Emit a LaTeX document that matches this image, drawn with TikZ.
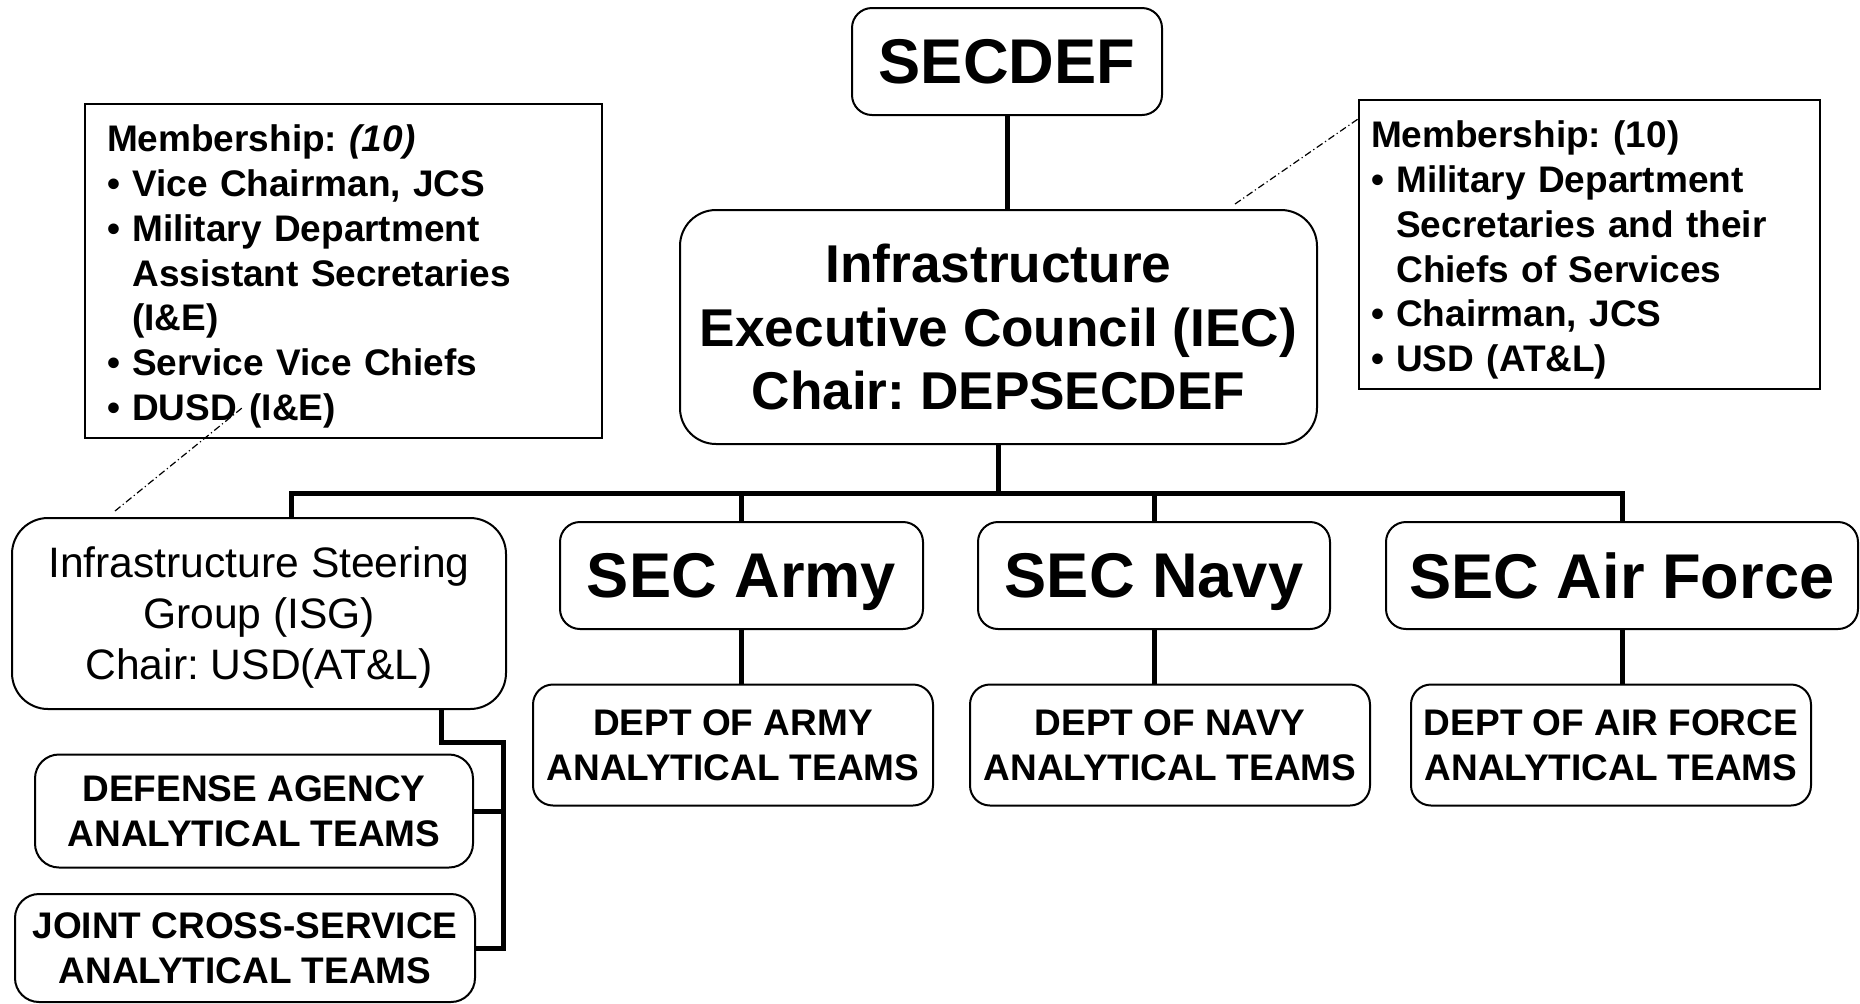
\documentclass[tikz,border=0pt]{standalone}
\usepackage{fontspec}
\setmainfont{Liberation Sans}
\usepackage{tikz}
\usetikzlibrary{calc}
\frenchspacing
\tikzset{
orgBox/.style={draw, line width=1pt, rounded corners=10pt, inner sep=0pt, align=center},
secFont/.style={font=\fontsize{31.6}{38}\selectfont\bfseries, text depth=0pt},
teamFont/.style={font=\fontsize{18.5}{22.5}\selectfont\bfseries},
memberBox/.style={draw, line width=1pt, inner ysep=0pt, align=left,
    font=\fontsize{18.5}{22.4}\selectfont\bfseries},
orgLine/.style={line width=2.5pt},
noteLine/.style={line width=0.6pt, dash pattern=on 3.5pt off 1.5pt on 0.6pt off 1.5pt}
}
\newcommand{\nobul}{\phantom{\textbullet\ }}
\newcommand{\topstrut}{\rule{0pt}{19pt}}

\begin{document}
\begin{tikzpicture}[x=0.5pt,y=-0.5pt]
    \useasboundingbox (0,0) rectangle (1860,1003);

    \node[orgBox, secFont, minimum width=155pt, minimum height=53.5pt] (secdef) at (1007,61.5) {SECDEF};
    \node[orgBox, rounded corners=18pt, minimum width=318.5pt, minimum height=117pt,
        font=\fontsize{26.6}{31.7}\selectfont\bfseries] (iec) at (998.5,327)
        {Infrastructure\\Executive Council (IEC)\\Chair: DEPSECDEF};

    \node[memberBox, inner xsep=11pt, text width=236.5pt, minimum height=167pt] (memIsg) at (343.5,271)
        {\topstrut Membership: \textit{(10)}\\
        \textbullet\ Vice Chairman, JCS\\
        \textbullet\ Military Department\\
        \nobul Assistant Secretaries\\
        \nobul (I\&E)\\
        \textbullet\ Service Vice Chiefs\\
        \textbullet\ DUSD (I\&E)};
    \node[memberBox, inner xsep=6pt, text width=218.5pt, minimum height=144.5pt] (memIec) at (1589.5,244.5)
        {\topstrut Membership: (10)\\
        \textbullet\ Military Department\\
        \nobul Secretaries and their\\
        \nobul Chiefs of Services\\
        \textbullet\ Chairman, JCS\\
        \textbullet\ USD (AT\&L)};

    \node[orgBox, rounded corners=18pt, minimum width=247pt, minimum height=95.5pt, text depth=0pt,
        font=\fontsize{21.3}{25.5}\selectfont] (isg) at (259,613.5)
        {Infrastructure Steering\\Group (ISG)\\Chair: USD(AT\&L)};
    \node[orgBox, secFont, minimum width=181.5pt, minimum height=53.5pt] (army) at (741.5,575.5) {SEC Army};
    \node[orgBox, secFont, minimum width=176pt, minimum height=53.5pt] (navy) at (1154,575.5) {SEC Navy};
    \node[orgBox, secFont, minimum width=236pt, minimum height=53.5pt] (airforce) at (1622,575.5) {SEC Air Force};

    \node[orgBox, teamFont, minimum width=200pt, minimum height=60.5pt] (armyTeams) at (733,745) {DEPT OF ARMY\\ANALYTICAL TEAMS};
    \node[orgBox, teamFont, minimum width=200pt, minimum height=60.5pt] (navyTeams) at (1170,745) {DEPT OF NAVY\\ANALYTICAL TEAMS};
    \node[orgBox, teamFont, minimum width=200pt, minimum height=60.5pt] (afTeams) at (1611,745) {DEPT OF AIR FORCE\\ANALYTICAL TEAMS};
    \node[orgBox, teamFont, rounded corners=12pt, minimum width=219pt, minimum height=56.5pt] (agencyTeams) at (254,811) {DEFENSE AGENCY\\ANALYTICAL TEAMS};
    \node[orgBox, teamFont, rounded corners=12pt, minimum width=230pt, minimum height=54pt] (jointTeams) at (245,948) {JOINT CROSS-SERVICE\\ANALYTICAL TEAMS};

    \coordinate (bus) at (998.5,493);
    \coordinate (isgBus) at (503,742);

    \draw[orgLine] (secdef.south) -- (secdef.south |- iec.north);
    \draw[orgLine] (iec.south) -- (bus);
    \draw[orgLine] ([xshift=16pt]isg.north) |- (bus) -| (airforce.north);
    \draw[orgLine] (army.north) |- (bus);
    \draw[orgLine] (navy.north) |- (bus);
    \draw[orgLine] (army.south) -- (army.south |- armyTeams.north);
    \draw[orgLine] (navy.south) -- (navy.south |- navyTeams.north);
    \draw[orgLine] (airforce.south) -- (airforce.south |- afTeams.north);
    \draw[orgLine] ([xshift=91pt]isg.south) |- (isgBus) |- (jointTeams.east);
    \draw[orgLine] (agencyTeams.east) -- (agencyTeams.east -| isgBus);

    \draw[noteLine] ([xshift=-72pt,yshift=3pt]isg.north) -- ([xshift=79pt,yshift=15.5pt]memIsg.south west);
    \draw[noteLine] ([xshift=-41.5pt,yshift=2.5pt]iec.north east) -- ([yshift=-10pt]memIec.north west);
\end{tikzpicture}
\end{document}
